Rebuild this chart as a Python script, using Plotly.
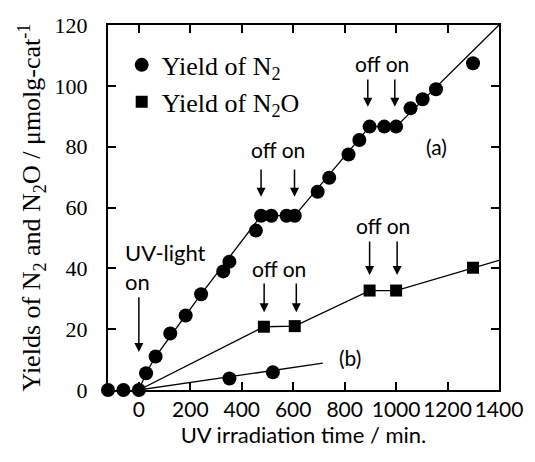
import plotly.graph_objects as go

# ---- data ----
n2_time = [-120, -60, 0, 28, 65, 122, 182, 242, 328, 352, 455, 475, 515, 574, 606,
           695, 740, 815, 857, 897, 954, 1000, 1056, 1103, 1155, 1299]
n2_yield = [0, 0, 0, 5.5, 11, 18.6, 24.5, 31.5, 39.0, 42.2, 52.4, 57.3, 57.3, 57.3, 57.3,
            65.2, 69.8, 77.4, 82.2, 86.6, 86.6, 86.6, 92.6, 95.6, 98.9, 107.4]

n2o_time = [486, 606, 897, 1000, 1299]
n2o_yield = [20.8, 21.0, 32.7, 32.7, 40.2]

b_time = [352, 521]
b_yield = [3.8, 5.8]

# guide lines drawn through the data in the reference
fit_a_time = [0, 28, 65, 242, 475, 606, 897, 1000, 1400]
fit_a_yield = [0, 5.5, 11, 31.5, 57.3, 57.3, 86.6, 86.6, 120]
fit_n2o_time = [0, 486, 606, 897, 1000, 1400]
fit_n2o_yield = [0, 20.8, 21.0, 32.7, 32.7, 42.6]
fit_b_time = [0, 715]
fit_b_yield = [0, 8.8]

x_ticks = [0, 200, 400, 600, 800, 1000, 1200, 1400]
y_ticks = [0, 20, 40, 60, 80, 100, 120]

SERIF = "Liberation Serif"
SANS = "Lato"

fig = go.Figure()
line_style = dict(color="black", width=1.3)
for xs, ys in [(fit_a_time, fit_a_yield), (fit_n2o_time, fit_n2o_yield), (fit_b_time, fit_b_yield)]:
    fig.add_trace(go.Scatter(x=xs, y=ys, mode="lines", line=line_style,
                             showlegend=False, hoverinfo="skip", cliponaxis=True))

fig.add_trace(go.Scatter(x=n2_time, y=n2_yield, mode="markers", name="Yield of N<sub>2</sub>",
                         marker=dict(symbol="circle", size=14, color="black"), cliponaxis=False))
fig.add_trace(go.Scatter(x=n2o_time, y=n2o_yield, mode="markers", name="Yield of N<sub>2</sub>O",
                         marker=dict(symbol="square", size=12, color="black"), cliponaxis=False))
fig.add_trace(go.Scatter(x=b_time, y=b_yield, mode="markers", showlegend=False,
                         marker=dict(symbol="circle", size=14, color="black"), cliponaxis=False))

annotations = []
# arrows: (x, tail y, head y)
arrows = [(0, 31, 12.5), (475, 73, 63.5), (605, 73, 63.5), (890, 102.6, 93.1), (995, 102.6, 93.1),
          (487, 35.5, 25.6), (612, 35.5, 25.6), (897, 49.3, 37.8), (1004, 49.3, 37.8)]
for ax_, y0, y1 in arrows:
    annotations.append(dict(x=ax_, y=y1, ax=ax_, ay=y0, xref="x", yref="y", axref="x", ayref="y",
                            text="", showarrow=True, arrowhead=2, arrowsize=1.2, arrowwidth=1.5,
                            arrowcolor="black"))
texts = [("off on", 540, 79, "center", 21), ("off on", 945, 107.5, "center", 21),
         ("off on", 546, 40.1, "center", 21), ("off on", 950, 54.2, "center", 21),
         ("(a)", 1156, 80, "center", 21), ("(b)", 821, 10.8, "center", 21)]
for t, x, y, anc, sz in texts:
    annotations.append(dict(x=x, y=y, xref="x", yref="y", text=t, showarrow=False, xanchor=anc,
                            yanchor="middle", font=dict(family=SANS, size=sz, color="black")))
annotations.append(dict(x=-62, y=40.6, xref="x", yref="y", text="UV-light<br>on", showarrow=False,
                        xanchor="left", yanchor="middle", align="left",
                        font=dict(family=SANS, size=22, color="black")))

fig.update_layout(
    width=535, height=462,
    margin=dict(l=108, r=28, t=25, b=72),
    paper_bgcolor="white", plot_bgcolor="white",
    annotations=annotations,
    legend=dict(x=0.035, y=0.955, xanchor="left", yanchor="top", bgcolor="rgba(0,0,0,0)",
                font=dict(family=SERIF, size=26, color="black"), itemwidth=30),
)
fig.update_xaxes(range=[-120, 1400], tickvals=x_ticks, ticks="inside", ticklen=8, tickwidth=1.5,
                 tickcolor="black", showline=True, linecolor="black", linewidth=2, mirror="ticks",
                 showgrid=False, zeroline=False,
                 tickfont=dict(family=SANS, size=21, color="black"),
                 title=dict(text="UV irradiation time / min.", font=dict(family=SANS, size=22, color="black"),
                            standoff=2))
fig.update_yaxes(range=[0, 120], tickvals=y_ticks, ticks="inside", ticklen=8, tickwidth=1.5,
                 tickcolor="black", showline=True, linecolor="black", linewidth=2, mirror="ticks",
                 showgrid=False, zeroline=False, ticklabelstandoff=14,
                 tickfont=dict(family=SERIF, size=22, color="black"),
                 title=dict(text="Yields of N<sub>2</sub> and N<sub>2</sub>O / μmolg-cat<sup>-1</sup>",
                            font=dict(family=SERIF, size=26, color="black"), standoff=6))

fig.write_html("out.html")
